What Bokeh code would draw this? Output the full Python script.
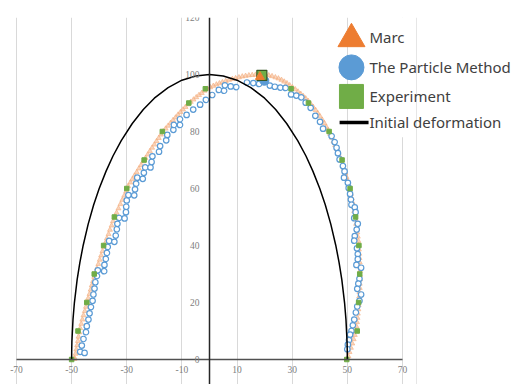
from bokeh.plotting import figure
from bokeh.models import BoxAnnotation, FixedTicker, Span
from bokeh.core.properties import value
from bokeh.embed import file_html
from bokeh.resources import INLINE

# ---------------- data ----------------
x_ticks = [-70, -50, -30, -10, 10, 30, 50, 70]
x_tick_labels = ["-70", "-50", "-30", "-10", "10", "30", "50", "70"]
y_ticks = [0, 20, 40, 60, 80, 100, 120]
y_tick_labels = ["0", "20", "40", "60", "80", "100", "120"]

series_names = ["Marc", "The Particle Method", "Experiment", "Initial deformation"]

# Marc (dense small triangles)
marc_x = [-49.0, -48.9, -48.6, -48.3, -48.0, -47.7, -47.5, -47.2, -46.9, -46.5, -46.1, -45.7,
          -45.2, -44.8, -44.4, -44.0, -43.5, -43.1, -42.7, -42.2, -41.8, -41.3, -40.8, -40.3,
          -39.8, -39.3, -38.8, -38.3, -37.7, -37.2, -36.6, -36.1, -35.5, -35.0, -34.4, -33.7,
          -33.0, -32.3, -31.6, -30.9, -30.2,
          -29.5, -28.7, -28.0, -27.2, -26.4, -25.6, -24.8, -24.0, -23.2, -22.4, -21.6, -20.8,
          -20.0, -19.2, -18.4, -17.6, -16.8, -15.9, -15.0, -14.1, -13.2, -12.3, -11.4, -10.5,
          -9.6, -8.7, -7.8, -6.8, -5.8, -4.8, -3.8, -2.8, -1.8, -0.8, 0.3, 1.4, 2.5, 3.6, 4.7,
          5.9, 7.1, 8.3, 9.5, 10.7, 11.9, 13.1, 14.3, 15.5, 16.7, 17.9,
          19.1, 20.3, 21.5, 22.7, 23.9, 25.0, 26.1, 27.1, 28.1, 29.1, 30.1, 31.1, 32.1, 33.1,
          34.0, 34.9, 35.8, 36.7, 37.6, 38.5, 39.3, 40.1, 40.9, 41.7, 42.4, 43.1, 43.8, 44.4,
          45.0, 45.6, 46.2, 46.8, 47.3, 47.8, 48.3, 48.8, 49.3, 49.7, 50.1, 50.5, 50.9, 51.3,
          51.6, 51.9, 52.2, 52.5, 52.8, 53.0, 53.2, 53.4, 53.6, 53.8, 54.0, 54.1, 54.2, 54.3,
          54.4, 54.5, 54.5, 54.6, 54.6, 54.6, 54.5, 54.5, 54.4, 54.3, 54.2, 54.1, 54.0, 53.8,
          53.7, 53.5, 53.3, 53.0, 52.7, 52.3, 51.8, 51.3, 50.8, 50.4]
marc_y = [0.2, 0.5, 2.0, 3.5, 5.0, 6.5, 8.0, 9.5, 11.0, 12.5, 14.0, 15.5,
          17.0, 18.5, 20.0, 21.5, 23.0, 24.5, 26.0, 27.5, 29.0, 30.5, 32.0, 33.5,
          35.0, 36.5, 38.0, 39.5, 41.0, 42.5, 44.0, 45.5, 47.0, 48.5, 50.0, 51.5,
          53.0, 54.5, 56.0, 57.5, 59.0,
          60.8, 62.1, 63.2, 64.5, 65.7, 67.0, 68.2, 69.5, 70.7, 71.9, 73.1, 74.3,
          75.4, 76.6, 77.7, 78.9, 80.0, 81.0, 82.0, 83.0, 84.0, 84.9, 85.9, 86.8,
          87.7, 88.6, 89.5, 90.4, 91.2, 92.0, 92.8, 93.5, 94.3, 95.0, 95.5, 96.0, 96.5, 96.9, 97.3,
          97.7, 98.1, 98.4, 98.7, 99.0, 99.3, 99.5, 99.7, 99.8, 99.9, 100.0,
          100.0, 99.9, 99.7, 99.4, 99.0, 98.6, 98.1, 97.5, 96.9, 96.2, 95.5, 94.8, 94.0, 93.2,
          92.4, 91.6, 90.7, 89.7, 88.6, 87.5, 86.4, 85.3, 84.1, 82.9, 81.6, 80.4, 79.1, 77.8,
          76.5, 75.2, 73.9, 72.5, 71.1, 69.7, 68.3, 66.9, 65.5, 64.0, 62.6, 61.1, 59.6, 58.1,
          56.6, 55.1, 53.6, 52.1, 50.6, 49.1, 47.6, 46.1, 44.6, 43.1, 41.6, 40.1, 38.6, 37.1,
          35.6, 34.1, 32.6, 31.1, 29.6, 28.1, 26.6, 25.1, 23.6, 22.1, 20.6, 19.1, 17.6, 16.1,
          14.6, 13.1, 11.6, 10.1, 8.6, 7.1, 5.6, 4.1, 2.6, 1.1]

# The Particle Method (open circles)
pm_x = [-46.9, -45.3, -46.3, -45.7, -44.8, -44.5, -43.9, -43.5, -43.0, -42.4, -42.1, -41.7,
        -41.4, -40.8, -40.5, -38.2, -38.1, -37.6, -37.2, -36.9, -36.4, -34.5, -34.0, -33.6,
        -33.4, -32.8, -30.8, -30.3, -30.2, -30.0, -29.4, -27.3, -27.0, -26.6, -26.2, -24.2,
        -23.8, -23.3, -21.4, -21.0, -20.7, -18.3, -17.9, -15.7, -15.3, -13.1, -12.9, -10.7,
        -10.7, -8.3, -5.9, -3.4, -1.3, 1.0, 3.4, 5.3, 5.6, 7.7, 9.7, 13.6, 15.9, 18.0,
        21.9, 23.7, 25.7, 27.6, 29.6, 31.5, 33.3, 34.9, 36.7, 38.4, 40.1, 41.2, 44.3, 45.4,
        46.1, 46.6, 47.2, 48.4, 49.0, 48.8, 50.2, 50.5, 51.0, 51.3, 51.5, 52.7, 53.0, 52.5,
        53.8, 53.4, 52.7, 52.5, 53.5, 53.8, 53.8, 53.3, 55.0, 54.4, 54.0, 53.6, 55.0, 54.4,
        53.6, 53.1, 52.5, 52.0, 51.5, 51.0, 50.6, 50.2, 50.0]
pm_y = [2.7, 2.3, 4.9, 7.2, 9.6, 11.7, 14.0, 16.2, 18.4, 20.6, 22.8, 24.9,
        27.1, 29.3, 31.3, 31.0, 33.2, 35.3, 37.4, 39.5, 41.6, 41.3, 43.5, 45.7,
        47.6, 49.7, 49.5, 51.7, 53.6, 55.8, 57.7, 57.6, 59.7, 61.7, 63.8, 63.4,
        65.5, 67.4, 67.4, 69.3, 71.3, 72.9, 74.9, 76.9, 78.8, 80.6, 82.3, 82.3,
        84.3, 85.8, 87.7, 89.4, 91.1, 92.8, 94.6, 94.3, 96.2, 95.8, 95.6, 97.2, 97.0, 96.7,
        96.1, 95.7, 95.4, 95.3, 93.0, 92.6, 92.0, 90.1, 88.3, 85.5, 83.4, 81.0, 78.4, 76.3,
        74.3, 72.4, 70.2, 67.9, 66.0, 63.8, 62.0, 60.2, 58.1, 56.1, 54.3, 53.4, 51.7, 49.6,
        47.6, 45.6, 43.3, 41.7, 39.0, 37.0, 35.2, 33.2, 32.2, 28.3, 26.6, 24.8, 22.8, 20.6,
        18.6, 16.5, 14.0, 12.0, 10.0, 8.7, 6.8, 5.2, 3.6]

# Experiment (green squares)
exp_x = [-50.0, -47.7, -44.5, -41.8, -38.4, -34.5, -30.0, -23.7, -17.1, -7.5, -1.5,
         29.6, 35.9, 43.4, 48.1, 51.0, 53.0, 54.2, 54.5, 54.1, 53.6, 49.8]
exp_y = [0, 10, 20, 30, 40, 50, 60, 70, 80, 90, 95,
         95, 90, 80, 70, 60, 50, 40, 30, 20, 10, 0]

# highlighted maximum points
pm_peak_x, pm_peak_y = [19.9], [97.8]
exp_peak_x, exp_peak_y = [19.0], [99.7]
marc_peak_x, marc_peak_y = [18.3], [99.2]

# Initial deformation (black curve)
init_x = [-50, -49.98, -49.9, -49.5, -49, -48, -47, -45.8, -44, -42, -40, -37.5, -35, -32,
          -28, -24, -20, -15, -10, -5, 0, 5, 10, 15, 20, 24, 28, 32, 35, 37.5, 40, 42, 44,
          45.8, 47, 48, 49, 49.5, 49.9, 49.98, 50]
init_y = [0, 2.8, 6.3, 14.1, 19.9, 28.0, 34.1, 40.1, 47.5, 54.3, 60.0, 66.1, 71.4, 76.8,
          82.8, 87.7, 91.7, 95.4, 98.0, 99.5, 100, 99.5, 98.0, 95.4, 91.7, 87.7, 82.8, 76.8,
          71.4, 66.1, 60.0, 54.3, 47.5, 40.1, 34.1, 28.0, 19.9, 14.1, 6.3, 2.8, 0]

# legend layout (positions of the key column / rows, in axis units)
legend_key_x = 51.5
legend_text_x = 58.0
legend_row_y = [113.0, 102.5, 92.3, 83.2]
legend_tri_y = 112.5
legend_line_x = (47.2, 57.7)

# ---------------- figure ----------------
p = figure(frame_width=515, frame_height=367, x_range=(-75.8, 111.0), y_range=(-8.77, 120),
           output_backend="svg", toolbar_location=None,
           min_border_left=0, min_border_right=0, min_border_top=17, min_border_bottom=0,
           outline_line_color=None, background_fill_color="white")

for ax, ticks, labels, std in ((p.xaxis, x_ticks, x_tick_labels, 6),
                               (p.yaxis, y_ticks, y_tick_labels, 10)):
    ax.ticker = FixedTicker(ticks=ticks)
    ax.major_label_overrides = dict(zip(ticks, labels))
    ax.fixed_location = 0
    ax.major_tick_line_color = None
    ax.minor_tick_line_color = None
    ax.major_tick_in = 0
    ax.major_tick_out = 0
    ax.major_label_standoff = std
    ax.major_label_text_font = "Liberation Serif"
    ax.major_label_text_font_size = "9.5px"
    ax.major_label_text_color = "#808080"
    ax.axis_line_width = 1.5
p.xaxis.bounds = (-70, 70)
p.xaxis.axis_line_color = "#505050"
p.yaxis.axis_line_color = "#262626"

p.xgrid.grid_line_color = "#D9D9D9"
p.xgrid.grid_line_width = 1
p.ygrid.visible = False

# white legend background hiding the gridline there, and the chart-area edge
p.add_layout(BoxAnnotation(left=60, right=80, bottom=78, top=130, fill_color="white",
                           fill_alpha=1, line_color=None, level="underlay"))
p.add_layout(Span(location=75.1, dimension="height", line_color="#E6E6E6", line_width=1,
                  level="underlay"))

# series
p.scatter(marc_x, marc_y, marker="triangle", size=5, fill_color="#F4B183", fill_alpha=0.55,
          line_color="#F4B183", line_alpha=0.8, line_width=0.8)
p.scatter(pm_x, pm_y, marker="circle", size=5.5, fill_color="white", line_color="#5B9BD5",
          line_width=1.2)
p.scatter(exp_x, exp_y, marker="square", size=4.5, fill_color="#70AD47", line_color="#70AD47")
p.line(init_x, init_y, line_color="black", line_width=1.5)

p.scatter(pm_peak_x, pm_peak_y, marker="circle", size=9, fill_color="#5B9BD5", line_color="#5B9BD5")
p.scatter(exp_peak_x, exp_peak_y, marker="square", size=10, fill_color="#70AD47",
          line_color="#375623", line_width=1.2)
p.scatter(marc_peak_x, marc_peak_y, marker="triangle", size=9, fill_color="#ED7D31",
          line_color="#ED7D31")

# legend
p.scatter([legend_key_x], [legend_tri_y], marker="triangle", size=27,
          fill_color="#ED7D31", line_color="#ED7D31")
p.scatter([legend_key_x], [legend_row_y[1]], marker="circle", size=25,
          fill_color="#5B9BD5", line_color="#5B9BD5")
p.scatter([legend_key_x], [legend_row_y[2]], marker="square", size=24,
          fill_color="#70AD47", line_color="#70AD47")
p.segment(x0=[legend_line_x[0]], y0=[legend_row_y[3]], x1=[legend_line_x[1]],
          y1=[legend_row_y[3]], line_color="black", line_width=3.5)
p.text(x=[legend_text_x] * 4, y=legend_row_y, text=series_names,
       text_font=value("Noto Sans"), text_font_size="15px", text_color="#404040",
       text_baseline="middle", text_align="left")

open("out.html", "w").write(file_html(p, INLINE))
